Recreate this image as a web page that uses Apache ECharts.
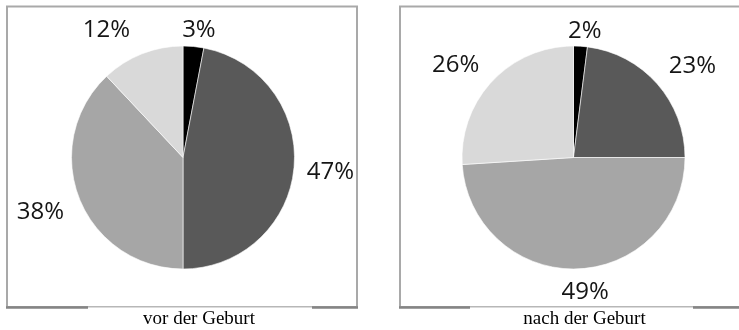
<!DOCTYPE html>
<html>
<head>
<meta charset="utf-8">
<script src="https://cdn.jsdelivr.net/npm/echarts@6/dist/echarts.min.js"></script>
<style>
  html, body { margin: 0; padding: 0; background: #fff; }
  #chart { width: 739px; height: 330px; }
</style>
</head>
<body>
<div id="chart"></div>
<script>
// Shares (%) per group, listed clockwise from 12 o'clock
const categories = ['Gruppe 1', 'Gruppe 2', 'Gruppe 3', 'Gruppe 4'];
const vorGeburt  = [3, 47, 38, 12];
const nachGeburt = [2, 23, 49, 26];
const captions   = ['vor der Geburt', 'nach der Geburt'];

// Styling and layout
const sliceColors = ['#000000', '#595959', '#a6a6a6', '#d9d9d9'];
const pieCenters  = [[183, 157.5], [573.5, 157.5]];
const pieRadius   = 111.5;
const labelRing   = [111.5, 178.5];           // invisible ring carrying the percent labels
const labelNudge  = [
  [[2, 20], [0, 1], [-5, 0], [-22, 10]],
  [[2, 21], [8, 7], [7, -13], [-10, 9]]
];
const frames = [
  { x: 7, w: 350, gapFrom: 88, gapTo: 312, right: 358 },
  { x: 400, w: 345, gapFrom: 470, gapTo: 693, right: 740 }
];
const captionX = [199, 584.5];

function pieSeries(values, k) {
  return [
    {
      type: 'pie',
      center: pieCenters[k],
      radius: pieRadius,
      startAngle: 90,
      clockwise: true,
      silent: true,
      animation: false,
      z: 3,
      label: { show: false },
      labelLine: { show: false },
      itemStyle: { borderColor: '#ffffff', borderWidth: 0.6 },
      data: values.map((v, i) => ({ name: categories[i], value: v, itemStyle: { color: sliceColors[i] } }))
    },
    {
      type: 'pie',
      center: pieCenters[k],
      radius: labelRing,
      startAngle: 90,
      clockwise: true,
      silent: true,
      animation: false,
      z: 4,
      itemStyle: { color: 'rgba(0,0,0,0)', borderWidth: 0 },
      label: {
        show: true,
        position: 'inside',
        formatter: '{c}%',
        fontFamily: 'Open Sans',
        fontSize: 24,
        color: '#151515'
      },
      labelLine: { show: false },
      labelLayout: p => ({ dx: labelNudge[k][p.dataIndex][0], dy: labelNudge[k][p.dataIndex][1] }),
      data: values.map((v, i) => ({ name: categories[i], value: v }))
    }
  ];
}

const graphics = [];
frames.forEach((f, k) => {
  graphics.push({
    type: 'rect', z: 0, silent: true,
    shape: { x: f.x, y: 6.5, width: f.w, height: 300.5 },
    style: { fill: '#ffffff', stroke: '#a9a9a9', lineWidth: 2 }
  });
  graphics.push({
    type: 'line', z: 1, silent: true,
    shape: { x1: f.x - 1, y1: 307.5, x2: f.gapFrom, y2: 307.5 },
    style: { stroke: '#858585', lineWidth: 2.5 }
  });
  graphics.push({
    type: 'line', z: 1, silent: true,
    shape: { x1: f.gapTo, y1: 307.5, x2: f.right, y2: 307.5 },
    style: { stroke: '#858585', lineWidth: 2.5 }
  });
  graphics.push({
    type: 'line', z: 1, silent: true,
    shape: { x1: f.gapFrom, y1: 307, x2: f.gapTo, y2: 307 },
    style: { stroke: '#c4c4c4', lineWidth: 1 }
  });
  graphics.push({
    type: 'rect', z: 1, silent: true,
    shape: { x: f.gapFrom, y: 307.6, width: f.gapTo - f.gapFrom, height: 3 },
    style: { fill: '#ffffff' }
  });
  graphics.push({
    type: 'text', z: 1, silent: true,
    x: captionX[k], y: 319.5,
    style: {
      text: captions[k],
      font: '19px "Liberation Serif", "Times New Roman", serif',
      fill: '#000000',
      align: 'center',
      verticalAlign: 'middle'
    }
  });
});

const chart = echarts.init(document.getElementById('chart'), null, { renderer: 'canvas' });
chart.setOption({
  backgroundColor: '#ffffff',
  animation: false,
  graphic: { elements: graphics },
  series: [...pieSeries(vorGeburt, 0), ...pieSeries(nachGeburt, 1)]
});
</script>
</body>
</html>
